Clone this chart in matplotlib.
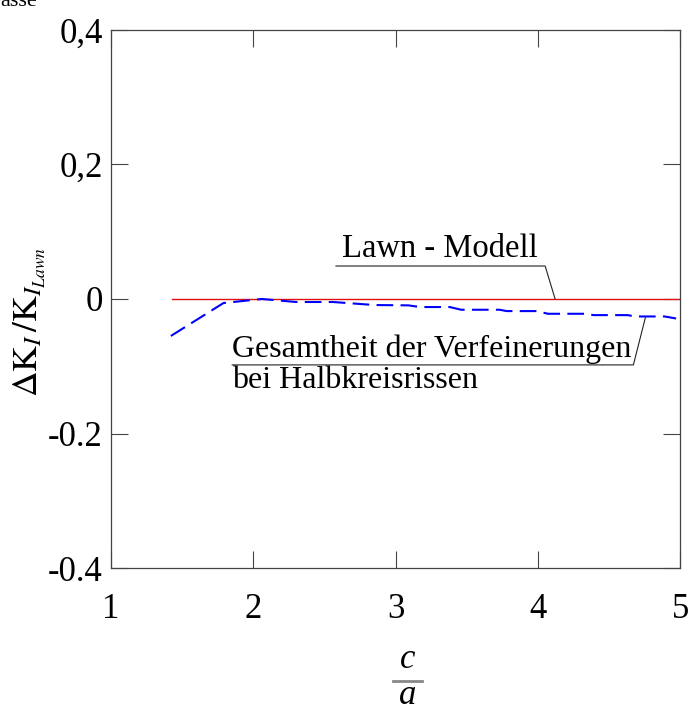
import matplotlib.pyplot as plt
from matplotlib.lines import Line2D

plt.rcParams['font.family'] = ['Liberation Serif', 'DejaVu Serif']
plt.rcParams['mathtext.fontset'] = 'stix'

# Lawn-Modell (Referenz) und Gesamtheit der Verfeinerungen
lawn_x = [1.43, 5.0]
lawn_y = [0.0, 0.0]

ref_x = [1.42, 1.79, 2.06, 2.30, 2.56, 2.85, 3.09, 3.17, 3.38, 3.46, 3.73,
         3.78, 3.99, 4.07, 4.34, 4.39, 4.63, 4.68, 4.89, 4.97]
ref_y = [-0.055, -0.006, 0.0, -0.0045, -0.0045, -0.009, -0.0095, -0.012, -0.012,
         -0.016, -0.016, -0.018, -0.018, -0.022, -0.022, -0.024, -0.024, -0.026,
         -0.026, -0.029]

x_ticks = [1, 2, 3, 4, 5]
x_ticklabels = ['1', '2', '3', '4', '5']
y_ticks = [-0.4, -0.2, 0.0, 0.2, 0.4]
y_ticklabels = ['-0.4', '-0.2', '0', '0,2', '0,4']

fig = plt.figure(figsize=(6.9, 7.11), dpi=100)
ax = fig.add_axes([0.161, 0.201, 0.825, 0.757])

ax.plot(lawn_x, lawn_y, color='#e01010', lw=1.0)
ax.plot(ref_x, ref_y, color='#0000ff', lw=1.5, dashes=(8, 3.5))

ax.set_xlim(1, 5)
ax.set_ylim(-0.4, 0.4)
ax.set_xticks(x_ticks)
ax.set_xticklabels(x_ticklabels)
ax.set_yticks(y_ticks)
ax.set_yticklabels(y_ticklabels)
ax.tick_params(direction='in', length=12, width=0.8, top=True, right=True,
               labelsize=25, color='#444444')
ax.tick_params(axis='x', pad=18)
ax.tick_params(axis='y', pad=6)
for sp in ax.spines.values():
    sp.set_linewidth(0.9)
    sp.set_color('#444444')

ax.set_ylabel(r'$\Delta\mathrm{K}_I\,/\mathrm{K}_{I_{Lawn}}$', fontsize=25.5)
ax.yaxis.set_label_coords(-0.112, 0.457)

# c/a als Bruch unter der x-Achse
fig.text(408 / 690, 1 - 668 / 711, 'c', fontsize=25, style='italic',
         ha='center', va='baseline')
fig.text(408 / 690, 1 - 704 / 711, 'a', fontsize=25, style='italic',
         ha='center', va='baseline')
fig.add_artist(Line2D([393 / 690, 422 / 690], [1 - 681 / 711, 1 - 681 / 711],
                      transform=fig.transFigure, color='#888888', lw=2))

# Beschriftungen mit Hinweislinien
ax.text(2.623, 0.0625, 'Lawn - Modell', fontsize=23.5, ha='left', va='baseline')
ax.plot([2.58, 4.05, 4.12], [0.049, 0.049, 0.0], color='#222222', lw=0.8)

ax.text(1.851, -0.0862, 'Gesamtheit der Verfeinerungen', fontsize=23,
        ha='left', va='baseline')
ax.text(1.851, -0.132, 'bei Halbkreisrissen', fontsize=23,
        ha='left', va='baseline')
ax.plot([1.851, 4.67, 4.754], [-0.098, -0.098, -0.028], color='#222222', lw=0.8)

fig.text(0.0, 1 - 6 / 711, 'asse', fontsize=16, ha='left', va='baseline')

fig.savefig('out.png', dpi=100)
